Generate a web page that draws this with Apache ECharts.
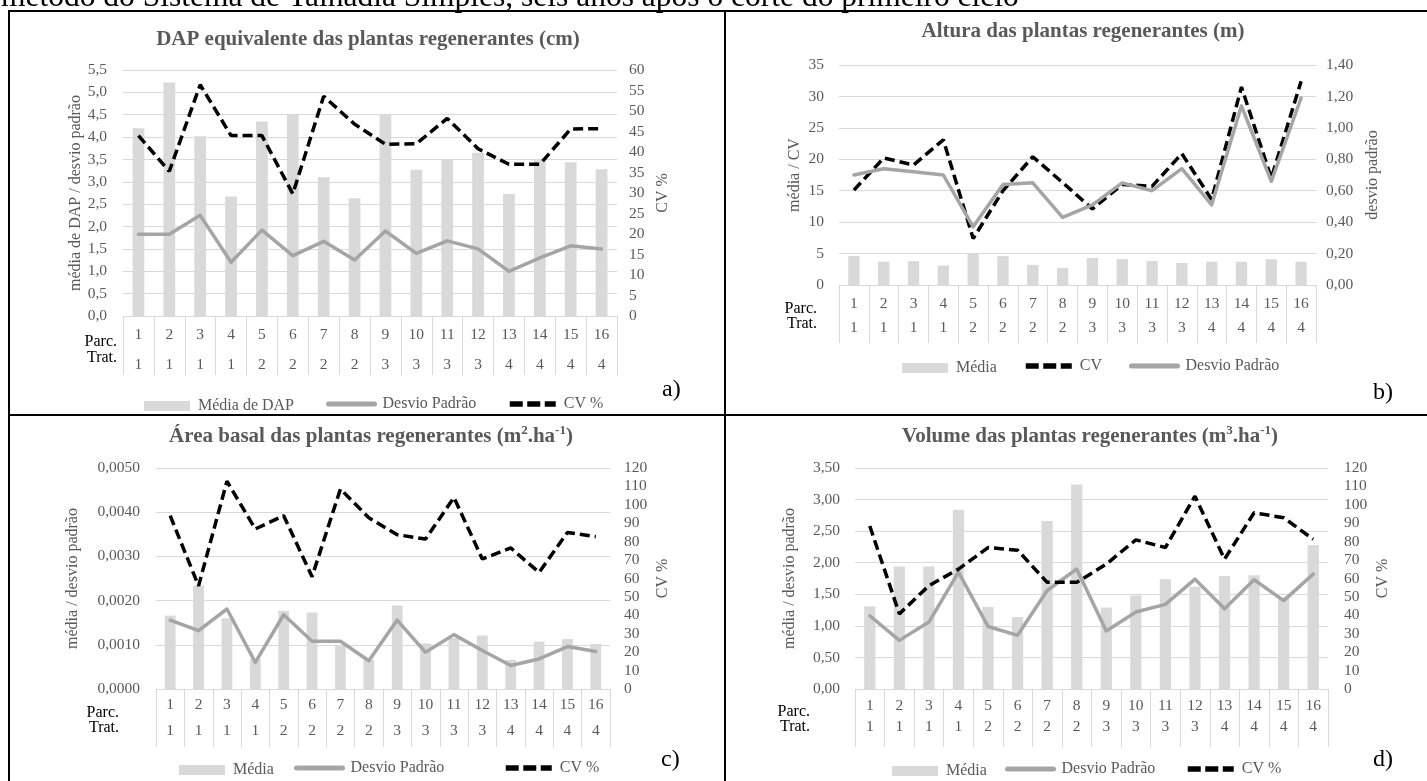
<!DOCTYPE html>
<html>
<head>
<meta charset="utf-8">
<script src="https://cdn.jsdelivr.net/npm/echarts@6/dist/echarts.min.js"></script>
<style>
  html, body { margin: 0; padding: 0; background: #ffffff; }
  #chart { width: 1427px; height: 781px; }
</style>
</head>
<body>
<div id="chart"></div>
<script>
// Category axis: plot number (Parc.) and treatment (Trat.)
const parcelas = ['1','2','3','4','5','6','7','8','9','10','11','12','13','14','15','16'];
const tratamentos = ['1','1','1','1','2','2','2','2','3','3','3','3','4','4','4','4'];

// a) DAP equivalente (cm)
const dapMedia  = [4.20, 5.22, 4.02, 2.67, 4.35, 4.50, 3.10, 2.63, 4.50, 3.27, 3.50, 3.65, 2.73, 3.48, 3.44, 3.28];
const dapDesvio = [1.83, 1.83, 2.25, 1.20, 1.92, 1.35, 1.67, 1.25, 1.90, 1.40, 1.68, 1.50, 1.00, 1.30, 1.57, 1.50];
const dapCV     = [44.0, 35.3, 56.4, 44.0, 44.0, 29.8, 53.6, 46.8, 41.9, 42.0, 48.2, 40.8, 37.0, 37.0, 45.6, 45.7];

// b) Altura (m)
const altMedia  = [4.6, 3.7, 3.8, 3.1, 5.0, 4.6, 3.2, 2.7, 4.3, 4.1, 3.8, 3.5, 3.7, 3.7, 4.1, 3.7];
const altCV     = [15.1, 20.2, 19.1, 23.1, 7.4, 15.0, 20.4, 16.3, 12.1, 16.0, 15.7, 20.9, 13.6, 31.5, 17.0, 32.4];
const altDesvio = [0.70, 0.74, 0.72, 0.70, 0.37, 0.64, 0.65, 0.43, 0.51, 0.65, 0.60, 0.74, 0.51, 1.14, 0.66, 1.19];

// c) Área basal (m².ha-1)
const abMedia  = [0.00166, 0.00234, 0.00160, 0.00068, 0.00177, 0.00173, 0.00098, 0.00066, 0.00189, 0.00103, 0.00115, 0.00121, 0.00066, 0.00107, 0.00113, 0.00102];
const abDesvio = [0.00156, 0.00132, 0.00181, 0.00060, 0.00168, 0.00108, 0.00108, 0.00064, 0.00156, 0.00083, 0.00123, 0.00087, 0.00053, 0.00068, 0.00096, 0.00085];
const abCV     = [94.1, 56.0, 112.8, 86.9, 94.1, 61.0, 108.6, 93.0, 83.8, 81.4, 104.0, 70.6, 76.6, 63.3, 85.0, 82.7];

// d) Volume (m³.ha-1)
const volMedia  = [1.31, 1.94, 1.94, 2.84, 1.30, 1.14, 2.66, 3.24, 1.29, 1.48, 1.74, 1.62, 1.79, 1.80, 1.45, 2.28];
const volDesvio = [1.16, 0.77, 1.06, 1.85, 0.99, 0.85, 1.56, 1.90, 0.92, 1.22, 1.34, 1.74, 1.27, 1.73, 1.40, 1.82];
const volCV     = [88.5, 40.8, 56.1, 65.1, 76.8, 75.4, 57.9, 57.9, 67.8, 81.0, 76.8, 104.7, 70.5, 95.7, 93.0, 81.3];

const FONT = '"Liberation Serif", "Times New Roman", serif';
const TXT = '#595959';
const LIGHT = '#D9D9D9';
const SD = '#A5A5A5';

const comma = (d) => (v) => v.toFixed(d).replace('.', ',');

const panels = [
  {
    grid: { left: 123, top: 70, width: 494, height: 246 },
    left:  { min: 0, max: 5.5, interval: 0.5, fmt: comma(1), name: 'média de DAP / desvio padrão', gap: 39, margin: 16 },
    right: { min: 0, max: 60, interval: 5, fmt: comma(0), name: 'CV %', gap: 38, margin: 12 },
    xlab: { margin: 4, lh: 30 }, tick: 59,
    series: [
      { kind: 'bar', name: 'Média de DAP', data: dapMedia, axis: 0 },
      { kind: 'sd', name: 'Desvio Padrão', data: dapDesvio, axis: 0 },
      { kind: 'cv', name: 'CV %', data: dapCV, axis: 1 }
    ],
    legendY: 398,
    legend: [ ['Média de DAP', 139], ['Desvio Padrão', 321], ['CV %', 502] ]
  },
  {
    grid: { left: 839, top: 65, width: 477, height: 220 },
    left:  { min: 0, max: 35, interval: 5, fmt: comma(0), name: 'média / CV', gap: 36, margin: 15 },
    right: { min: 0, max: 1.4, interval: 0.2, fmt: comma(2), name: 'desvio padrão', gap: 49, margin: 10 },
    xlab: { margin: 7, lh: 24 }, tick: 58,
    series: [
      { kind: 'bar', name: 'Média', data: altMedia, axis: 0 },
      { kind: 'cv', name: 'CV', data: altCV, axis: 0 },
      { kind: 'sd', name: 'Desvio Padrão', data: altDesvio, axis: 1 }
    ],
    legendY: 360,
    legend: [ ['Média', 897], ['CV', 1018], ['Desvio Padrão', 1124] ]
  },
  {
    grid: { left: 156, top: 468, width: 454, height: 221 },
    left:  { min: 0, max: 0.005, interval: 0.001, fmt: comma(4), name: 'média / desvio padrão', gap: 75, margin: 16 },
    right: { min: 0, max: 120, interval: 10, fmt: comma(0), name: 'CV %', gap: 45, margin: 14 },
    xlab: { margin: 3, lh: 26 }, tick: 58,
    series: [
      { kind: 'bar', name: 'Média', data: abMedia, axis: 0 },
      { kind: 'sd', name: 'Desvio Padrão', data: abDesvio, axis: 0 },
      { kind: 'cv', name: 'CV %', data: abCV, axis: 1 }
    ],
    legendY: 762,
    legend: [ ['Média', 174], ['Desvio Padrão', 289], ['CV %', 498] ]
  },
  {
    grid: { left: 855, top: 468, width: 473, height: 221 },
    left:  { min: 0, max: 3.5, interval: 0.5, fmt: comma(2), name: 'média / desvio padrão', gap: 57, margin: 15 },
    right: { min: 0, max: 120, interval: 10, fmt: comma(0), name: 'CV %', gap: 47, margin: 16 },
    xlab: { margin: 6, lh: 21 }, tick: 58,
    series: [
      { kind: 'bar', name: 'Média', data: volMedia, axis: 0 },
      { kind: 'sd', name: 'Desvio Padrão', data: volDesvio, axis: 0 },
      { kind: 'cv', name: 'CV %', data: volCV, axis: 1 }
    ],
    legendY: 763,
    legend: [ ['Média', 887], ['Desvio Padrão', 1000], ['CV %', 1180] ]
  }
];

const grid = [], xAxis = [], yAxis = [], series = [], legend = [];

panels.forEach((p, i) => {
  grid.push(Object.assign({ containLabel: false }, p.grid));
  xAxis.push({
    type: 'category', gridIndex: i, data: parcelas, boundaryGap: true,
    axisLine: { lineStyle: { color: LIGHT, width: 1 } },
    axisTick: { show: true, interval: 0, length: p.tick, lineStyle: { color: LIGHT, width: 1 } },
    axisLabel: {
      interval: 0, margin: p.xlab.margin,
      formatter: (v, idx) => '{p|' + v + '}\n{t|' + tratamentos[idx] + '}',
      rich: {
        p: { fontFamily: FONT, fontSize: 15.5, color: TXT, lineHeight: p.xlab.lh },
        t: { fontFamily: FONT, fontSize: 15.5, color: TXT, lineHeight: p.xlab.lh }
      }
    },
    splitLine: { show: false }
  });
  [p.left, p.right].forEach((a, k) => {
    yAxis.push({
      type: 'value', gridIndex: i, position: k === 0 ? 'left' : 'right',
      min: a.min, max: a.max, interval: a.interval,
      name: a.name, nameLocation: 'middle', nameGap: a.gap, nameRotate: 90,
      nameTextStyle: { fontFamily: FONT, fontSize: 16, color: TXT },
      axisLine: { show: false }, axisTick: { show: false },
      axisLabel: { formatter: a.fmt, margin: a.margin, fontFamily: FONT, fontSize: 15.5, color: TXT },
      splitLine: { show: k === 0, lineStyle: { color: LIGHT, width: 1 } }
    });
  });
  p.series.forEach((s) => {
    const base = { name: s.name, xAxisIndex: i, yAxisIndex: i * 2 + s.axis, data: s.data, silent: true, animation: false };
    if (s.kind === 'bar') {
      series.push(Object.assign(base, { type: 'bar', barWidth: '38%', itemStyle: { color: LIGHT }, z: 1 }));
    } else if (s.kind === 'sd') {
      series.push(Object.assign(base, { type: 'line', symbol: 'none', itemStyle: { color: SD },
        lineStyle: { color: SD, width: 3.5, cap: 'round', join: 'round' }, z: 3 }));
    } else {
      series.push(Object.assign(base, { type: 'line', symbol: 'none', itemStyle: { color: '#000000' },
        lineStyle: { color: '#000000', width: 3.5, type: [10, 5] }, z: 3 }));
    }
  });
  p.legend.forEach(([name, x]) => {
    const kind = p.series.find((s) => s.name === name).kind;
    const isBar = kind === 'bar';
    const item = {
      data: [isBar ? { name, icon: 'rect' } : { name }],
      left: x, top: p.legendY - (isBar ? 5 : 7),
      itemWidth: 46, itemHeight: isBar ? 10 : 14, selectedMode: false,
      textStyle: { fontFamily: FONT, fontSize: 16, color: TXT, padding: [0, 0, 0, 3] }
    };
    // line entries show only a thick stroke, without a marker in the middle
    if (!isBar) {
      item.itemStyle = { opacity: 0 };
      item.lineStyle = kind === 'cv' ? { width: 5.5, type: [13, 4.5], cap: 'butt' } : { width: 5 };
    }
    legend.push(item);
  });
});

// Panel titles
const titleStyle = { fontFamily: FONT, fontSize: 21, fontWeight: 'bold', fill: TXT, align: 'center', verticalAlign: 'middle', lineHeight: 26,
  rich: { sup: { fontFamily: FONT, fontSize: 13, fontWeight: 'bold', fill: TXT, lineHeight: 13, verticalAlign: 'top' } } };
const titles = [
  ['DAP equivalente das plantas regenerantes (cm)', 368, 40],
  ['Altura das plantas regenerantes (m)', 1083, 32],
  ['Área basal das plantas regenerantes (m{sup|2}.ha{sup|-1})', 371, 437],
  ['Volume das plantas regenerantes (m{sup|3}.ha{sup|-1})', 1090, 437]
];

// Row captions of the category table and panel letters
const rowCaptions = [
  [117, 342, 358], [817, 309, 324], [119, 713, 728], [810, 712, 727]
];
const letters = [['a)', 662, 390], ['b)', 1373, 393], ['c)', 661, 760], ['d)', 1373, 760]];

const graphic = [];
graphic.push({ type: 'text', x: 1, y: -2.5, z: 10, style: {
  text: 'método do Sistema de Talhadia Simples, seis anos após o corte do primeiro ciclo',
  fontFamily: FONT, fontSize: 31.5, fill: '#000000', verticalAlign: 'middle' } });
titles.forEach(([t, x, y]) => graphic.push({ type: 'text', x, y, z: 10, style: Object.assign({ text: t }, titleStyle) }));
rowCaptions.forEach(([x, y1, y2]) => {
  graphic.push({ type: 'text', x, y: y1, z: 10, style: { text: 'Parc.', fontFamily: FONT, fontSize: 16, fill: '#000000', align: 'right', verticalAlign: 'middle' } });
  graphic.push({ type: 'text', x, y: y2, z: 10, style: { text: 'Trat.', fontFamily: FONT, fontSize: 16, fill: '#000000', align: 'right', verticalAlign: 'middle' } });
});
letters.forEach(([t, x, y]) => graphic.push({ type: 'text', x, y, z: 10, style: { text: t, fontFamily: FONT, fontSize: 24, fill: '#000000', align: 'left', verticalAlign: 'middle' } }));
// Table frame around the four panels
[[8, 11, 1427, 11], [9, 11, 9, 781], [725, 11, 725, 781], [8, 415, 1427, 415]].forEach(([x1, y1, x2, y2]) => {
  graphic.push({ type: 'line', z: 10, shape: { x1, y1, x2, y2 }, style: { stroke: '#000000', lineWidth: 2 } });
});

const chart = echarts.init(document.getElementById('chart'), null, { renderer: 'canvas' });
chart.setOption({
  animation: false,
  backgroundColor: '#ffffff',
  grid, xAxis, yAxis, series, legend, graphic
});
</script>
</body>
</html>
